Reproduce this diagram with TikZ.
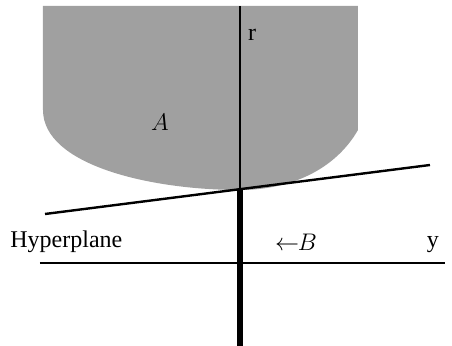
\documentclass[tikz,border=0pt]{standalone}
\usepackage{fontspec}
\setmainfont{Liberation Serif}
\usepackage{amsmath, amssymb}
\usetikzlibrary{positioning}
\definecolor{setgray}{RGB}{160,160,160}

\begin{document}
\begin{tikzpicture}[
    x=0.5pt, y=-0.5pt,
    every node/.style={font=\fontsize{12}{14}\selectfont, inner sep=0pt},
    axis/.style={line width=1.2pt},
    thickaxis/.style={line width=3.2pt}
]
\useasboundingbox (0,0) rectangle (452,346);

% set A
\fill[setgray] (43,6) -- (43,110) .. controls (43,165) and (150,190) .. (240,190)
    .. controls (290,190) and (335,170) .. (358,130) -- (358,6) -- cycle;

\coordinate (rtop) at (240,6);
\coordinate (touch) at (240,189);
\coordinate (rbot) at (240,346);
\coordinate (yleft) at (40,263);
\coordinate (yright) at (445,263);
\coordinate (hleft) at (45,214);
\coordinate (hright) at (430,165);

% axes
\draw[axis] (rtop) -- (touch);
\draw[thickaxis] (touch) -- (rbot);
\draw[axis] (yleft) -- (yright);

% hyperplane
\draw[axis] (hleft) -- (hright);

% labels
\node (r) at (252,35) {r};
\node (A) at (160,122) {$A$};
\node[anchor=west] (hyp) at (10,242) {Hyperplane};
\node (B) at (296,242) {$\leftarrow\!\! B$};
\node (y) at (433,245) {y};

\end{tikzpicture}
\end{document}
